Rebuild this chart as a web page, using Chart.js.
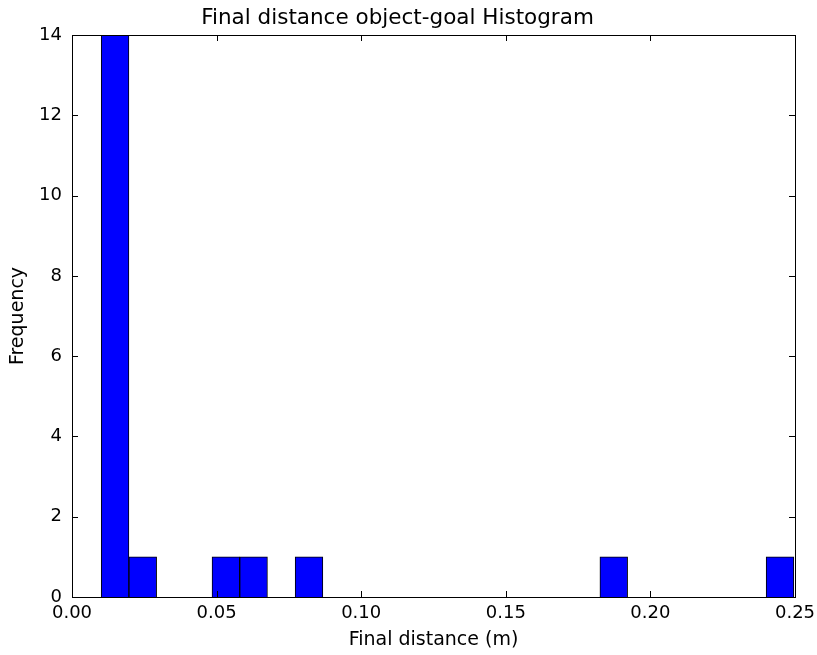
<!DOCTYPE html>
<html>
<head>
<meta charset="utf-8">
<script src="https://cdn.jsdelivr.net/npm/chart.js@4/dist/chart.umd.min.js"></script>
<style>
  body { margin: 0; background: #fff; }
</style>
</head>
<body>
<canvas id="myChart" width="817" height="655"></canvas>
<script>
// Histogram bins (25 bins)
let binStart = 0.0101;
let binWidth = 0.00958;
let counts = [14, 1, 0, 0, 1, 1, 0, 1, 0, 0, 0, 0, 0, 0, 0, 0, 0, 0, 1, 0, 0, 0, 0, 0, 1];

// Tick labels
let xTicks = [0, 0.05, 0.10, 0.15, 0.20, 0.25];
let yTicks = [0, 2, 4, 6, 8, 10, 12, 14];

let points = counts.map((c, i) => ({ x: binStart + (i + 0.5) * binWidth, y: c }));

// matplotlib-style frame with inward ticks on all four sides
let framePlugin = {
    id: 'frame',
    afterDatasetsDraw(chart) {
        let c = chart.ctx, a = chart.chartArea;
        let xs = chart.scales.x, ys = chart.scales.y;
        c.save();
        c.strokeStyle = '#000';
        c.lineWidth = 1;
        c.beginPath();
        xTicks.forEach(v => {
            let px = Math.round(xs.getPixelForValue(v)) + 0.5;
            c.moveTo(px, a.bottom); c.lineTo(px, a.bottom - 6);
            c.moveTo(px, a.top); c.lineTo(px, a.top + 6);
        });
        yTicks.forEach(v => {
            let py = Math.round(ys.getPixelForValue(v)) + 0.5;
            c.moveTo(a.left, py); c.lineTo(a.left + 6, py);
            c.moveTo(a.right, py); c.lineTo(a.right - 6, py);
        });
        c.stroke();
        c.strokeRect(Math.round(a.left) + 0.5, Math.round(a.top) + 0.5,
                     Math.round(a.right - a.left), Math.round(a.bottom - a.top));
        c.restore();
    }
};

Chart.defaults.font.family = "'DejaVu Sans', sans-serif";
Chart.defaults.color = '#000';

let ctx = document.getElementById('myChart').getContext('2d');
let myChart = new Chart(ctx, {
    type: 'bar',
    data: {
        datasets: [{
            data: points,
            backgroundColor: c => (c.raw && c.raw.y ? '#0000ff' : 'rgba(0,0,0,0)'),
            borderColor: '#000',
            borderWidth: c => (c.raw && c.raw.y ? 1 : 0),
            borderSkipped: 'start',
            barPercentage: 1,
            categoryPercentage: 1
        }]
    },
    options: {
        responsive: false,
        animation: false,
        layout: { padding: { left: 0, right: 22, top: 0, bottom: 0 } },
        plugins: {
            legend: { display: false },
            tooltip: { enabled: false },
            title: {
                display: true,
                text: 'Final distance object-goal Histogram',
                font: { size: 21.5, weight: 'normal' },
                padding: { top: 6, bottom: 3.2 }
            }
        },
        scales: {
            x: {
                type: 'linear',
                offset: false,
                min: 0,
                max: 0.25,
                afterBuildTicks: s => { s.ticks = xTicks.map(v => ({ value: v })); },
                afterFit: s => { s.height = 58; s.paddingLeft = 0; s.paddingRight = 0; },
                grid: { display: false, drawTicks: false },
                border: { display: false },
                ticks: {
                    font: { size: 18 },
                    padding: 6,
                    maxRotation: 0,
                    callback: v => Number(v).toFixed(2)
                },
                title: {
                    display: true,
                    text: 'Final distance (m)',
                    font: { size: 19 },
                    padding: { top: 4, bottom: 4 }
                }
            },
            y: {
                min: 0,
                max: 14,
                afterBuildTicks: s => { s.ticks = yTicks.map(v => ({ value: v })); },
                afterFit: s => { s.width = 72; s.paddingTop = 0; s.paddingBottom = 0; },
                grid: { display: false, drawTicks: false },
                border: { display: false },
                ticks: { font: { size: 18 }, padding: 10 },
                title: {
                    display: true,
                    text: 'Frequency',
                    font: { size: 19 },
                    padding: { top: 7, bottom: 4 }
                }
            }
        }
    },
    plugins: [framePlugin]
});
</script>
</body>
</html>
